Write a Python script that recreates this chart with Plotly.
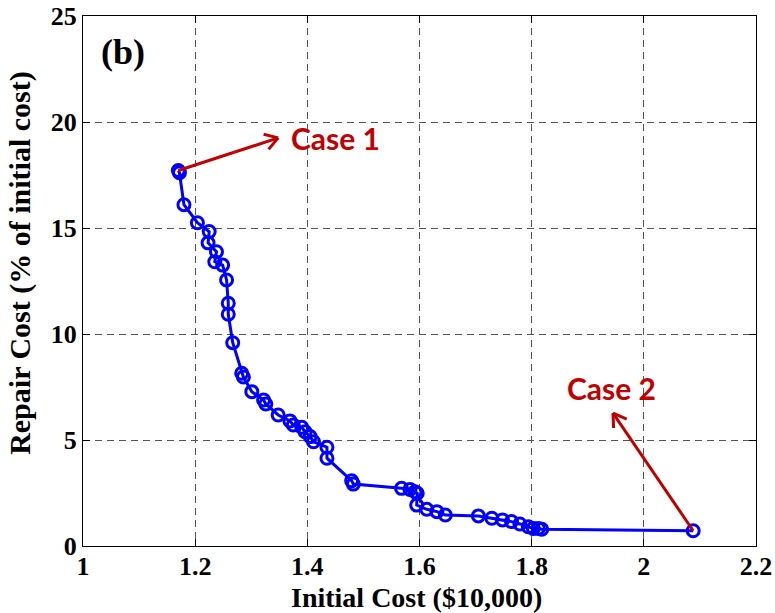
import math
import plotly.graph_objects as go

# Pareto front: initial cost vs. repair cost
initial_cost = [1.170, 1.172, 1.180, 1.204, 1.225, 1.223, 1.238, 1.235, 1.249, 1.256,
                1.259, 1.259, 1.267, 1.283, 1.286, 1.301, 1.322, 1.326, 1.348, 1.369,
                1.375, 1.390, 1.396, 1.405, 1.411, 1.435, 1.435, 1.479, 1.482, 1.568,
                1.583, 1.592, 1.596, 1.595, 1.613, 1.631, 1.646, 1.705, 1.729, 1.748,
                1.764, 1.779, 1.794, 1.803, 1.812, 1.818, 2.088]
repair_cost = [17.71, 17.61, 16.10, 15.25, 14.83, 14.30, 13.88, 13.41, 13.25, 12.55,
               11.45, 10.93, 9.59, 8.15, 7.97, 7.28, 6.89, 6.70, 6.18, 5.90,
               5.71, 5.60, 5.39, 5.16, 4.92, 4.66, 4.14, 3.08, 2.92, 2.72,
               2.67, 2.56, 2.49, 1.93, 1.73, 1.62, 1.46, 1.42, 1.31, 1.23,
               1.15, 1.04, 0.91, 0.83, 0.83, 0.79, 0.72]

x_ticks = [1, 1.2, 1.4, 1.6, 1.8, 2, 2.2]
x_tick_text = ["1", "1.2", "1.4", "1.6", "1.8", "2", "2.2"]
y_ticks = [0, 5, 10, 15, 20, 25]
y_tick_text = ["0", "5", "10", "15", "20", "25"]

# Case labels: (label, text position, arrow start point, arrow tip)
case_labels = ["Case 1", "Case 2"]
case_text_xy = [(1.450, 19.25), (1.942, 7.45)]
case_arrow_from = [(initial_cost[0], repair_cost[0]), (initial_cost[-1], repair_cost[-1])]
case_arrow_to = [(1.348, 19.25), (1.945, 6.27)]

W, H = 775, 613
M = dict(l=83, r=19, t=16, b=67)
X_RANGE = [1, 2.2]
Y_RANGE = [0, 25]
px_per_x = (W - M["l"] - M["r"]) / (X_RANGE[1] - X_RANGE[0])
px_per_y = (H - M["t"] - M["b"]) / (Y_RANGE[1] - Y_RANGE[0])

BLUE = "#0000FF"
RED = "#C00000"
SERIF = "Liberation Serif"


def bold(labels):
    return [f"<b>{s}</b>" for s in labels]


fig = go.Figure()
fig.add_trace(go.Scatter(
    x=initial_cost, y=repair_cost, mode="lines+markers",
    line=dict(color=BLUE, width=3),
    marker=dict(symbol="circle-open", size=12, color=BLUE, line=dict(width=3, color=BLUE)),
    showlegend=False, hoverinfo="x+y",
))

shapes = []
annotations = []
for label, (tx, ty), (x0, y0), (x1, y1) in zip(case_labels, case_text_xy, case_arrow_from, case_arrow_to):
    shapes.append(dict(type="line", xref="x", yref="y", x0=x0, y0=y0, x1=x1, y1=y1,
                       line=dict(color=RED, width=3), layer="above"))
    # open chevron head, built in pixel space then mapped back to data units
    dxp = (x1 - x0) * px_per_x
    dyp = (y1 - y0) * px_per_y
    ang = math.atan2(dyp, dxp)
    head = 15
    for da in (math.radians(32), -math.radians(32)):
        a = ang + math.pi + da
        hx = x1 + head * math.cos(a) / px_per_x
        hy = y1 + head * math.sin(a) / px_per_y
        shapes.append(dict(type="line", xref="x", yref="y", x0=x1, y0=y1, x1=hx, y1=hy,
                           line=dict(color=RED, width=3), layer="above"))
    annotations.append(dict(x=tx, y=ty, xref="x", yref="y", text=f"<b>{label}</b>", showarrow=False,
                            font=dict(family="Lato", size=30, color=RED),
                            xanchor="center", yanchor="middle"))

annotations.append(dict(x=1.029, y=23.3, xref="x", yref="y", text="<b>(b)</b>", showarrow=False,
                        font=dict(family=SERIF, size=36, color="black"),
                        xanchor="left", yanchor="middle"))
annotations.append(dict(x=0.496, y=-0.098, xref="paper", yref="paper",
                        text="<b>Initial Cost ($10,000)</b>",
                        showarrow=False, font=dict(family=SERIF, size=28, color="black"),
                        xanchor="center", yanchor="middle"))
annotations.append(dict(x=-0.093, y=0.535, xref="paper", yref="paper",
                        text="<b>Repair Cost (% of initial cost)</b>", textangle=-90,
                        showarrow=False, font=dict(family=SERIF, size=30, color="black"),
                        xanchor="center", yanchor="middle"))

axis_common = dict(
    showline=True, linecolor="black", linewidth=1, mirror="ticks",
    ticks="inside", ticklen=7, tickcolor="black", tickwidth=1,
    showgrid=True, gridcolor="#555555", gridwidth=1, griddash="7px,5px",
    zeroline=False, automargin=False,
    tickfont=dict(family=SERIF, size=26, color="black"),
)

fig.update_layout(
    width=W, height=H, margin=M,
    paper_bgcolor="white", plot_bgcolor="white",
    xaxis=dict(range=X_RANGE, tickvals=x_ticks, ticktext=bold(x_tick_text), ticklabelstandoff=-3,
               **axis_common),
    yaxis=dict(range=Y_RANGE, tickvals=y_ticks, ticktext=bold(y_tick_text), **axis_common),
    shapes=shapes, annotations=annotations,
)

fig.write_html("out.html")
